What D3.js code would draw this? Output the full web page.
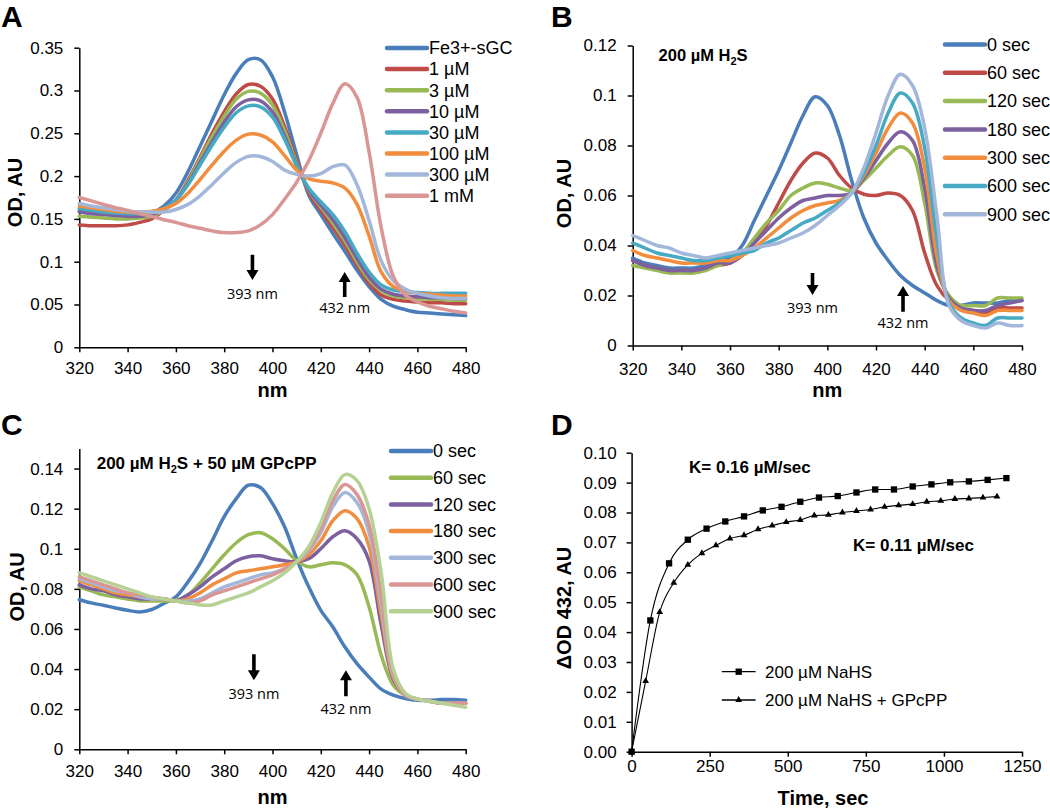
<!DOCTYPE html>
<html><head><meta charset="utf-8">
<script src="https://cdn.jsdelivr.net/npm/d3@7"></script>
<style>body{margin:0;background:#fff}svg{display:block}</style>
</head><body><svg id="c" width="1050" height="810"></svg>
<script>
// ---------------- DATA ----------------
const wavelengths = [320,325,330,335,340,345,350,355,360,365,370,375,380,385,390,395,400,405,410,415,420,425,430,435,440,445,450,455,460,465,470,475,480];
const nmTicks = [320,340,360,380,400,420,440,460,480];

// Panel A: H2S concentration series
const aNames = ["Fe3+-sGC","1 µM","3 µM","10 µM","30 µM","100 µM","300 µM","1 mM"];
const aFe   = [0.160,0.158,0.157,0.156,0.155,0.155,0.157,0.165,0.180,0.205,0.235,0.265,0.295,0.320,0.336,0.336,0.316,0.275,0.225,0.178,0.155,0.133,0.112,0.090,0.071,0.056,0.048,0.044,0.041,0.040,0.039,0.038,0.037];
const a1uM  = [0.143,0.142,0.142,0.142,0.143,0.146,0.150,0.160,0.172,0.195,0.222,0.250,0.275,0.296,0.307,0.305,0.290,0.258,0.218,0.181,0.160,0.140,0.119,0.096,0.075,0.061,0.056,0.054,0.053,0.052,0.052,0.051,0.051];
const a3uM  = [0.153,0.152,0.151,0.150,0.150,0.151,0.153,0.160,0.172,0.193,0.220,0.246,0.270,0.290,0.299,0.297,0.283,0.253,0.215,0.183,0.164,0.145,0.124,0.100,0.079,0.066,0.060,0.058,0.057,0.056,0.056,0.055,0.055];
const a10uM = [0.158,0.156,0.155,0.154,0.153,0.153,0.155,0.161,0.172,0.191,0.216,0.240,0.263,0.281,0.289,0.288,0.275,0.247,0.213,0.184,0.166,0.149,0.128,0.104,0.082,0.068,0.062,0.060,0.059,0.058,0.058,0.057,0.057];
const a30uM = [0.162,0.160,0.158,0.157,0.156,0.156,0.157,0.162,0.172,0.190,0.213,0.236,0.257,0.274,0.282,0.281,0.269,0.243,0.212,0.186,0.170,0.155,0.135,0.110,0.088,0.073,0.067,0.065,0.064,0.063,0.063,0.063,0.063];
const a100uM= [0.165,0.163,0.161,0.159,0.158,0.158,0.159,0.162,0.168,0.180,0.196,0.213,0.229,0.242,0.249,0.248,0.240,0.224,0.207,0.197,0.194,0.192,0.186,0.167,0.130,0.088,0.071,0.066,0.063,0.062,0.061,0.060,0.060];
const a300uM= [0.168,0.165,0.163,0.161,0.159,0.158,0.158,0.158,0.161,0.167,0.177,0.190,0.204,0.216,0.223,0.223,0.217,0.207,0.202,0.200,0.203,0.211,0.213,0.190,0.148,0.101,0.078,0.068,0.063,0.060,0.058,0.057,0.057];
const a1mM  = [0.175,0.171,0.167,0.163,0.160,0.156,0.153,0.149,0.146,0.142,0.139,0.136,0.134,0.134,0.136,0.143,0.155,0.173,0.193,0.218,0.250,0.285,0.308,0.292,0.228,0.140,0.083,0.061,0.053,0.048,0.045,0.042,0.040];
const aYTicks = [0,0.05,0.1,0.15,0.2,0.25,0.3,0.35];

// Panel B: 200 µM H2S time course
const bNames = ["0 sec","60 sec","120 sec","180 sec","300 sec","600 sec","900 sec"];
const b0   = [0.035,0.033,0.032,0.031,0.031,0.031,0.032,0.034,0.035,0.040,0.050,0.060,0.070,0.081,0.092,0.0995,0.096,0.084,0.066,0.051,0.041,0.034,0.028,0.024,0.021,0.018,0.016,0.016,0.017,0.017,0.017,0.018,0.018];
const b60  = [0.034,0.032,0.031,0.030,0.030,0.030,0.031,0.032,0.033,0.036,0.041,0.048,0.057,0.066,0.073,0.077,0.075,0.068,0.063,0.0605,0.060,0.061,0.060,0.054,0.037,0.024,0.018,0.015,0.014,0.013,0.015,0.015,0.015];
const b120 = [0.032,0.031,0.030,0.029,0.029,0.029,0.030,0.032,0.034,0.037,0.043,0.049,0.054,0.060,0.063,0.065,0.0645,0.063,0.062,0.066,0.071,0.076,0.0795,0.076,0.057,0.030,0.020,0.016,0.016,0.016,0.019,0.019,0.019];
const b180 = [0.034,0.032,0.031,0.030,0.030,0.030,0.031,0.033,0.033,0.036,0.041,0.046,0.051,0.055,0.058,0.059,0.060,0.060,0.061,0.067,0.074,0.081,0.0855,0.082,0.063,0.032,0.019,0.015,0.014,0.014,0.016,0.017,0.018];
const b300 = [0.038,0.036,0.035,0.034,0.033,0.033,0.033,0.034,0.034,0.036,0.039,0.043,0.047,0.051,0.054,0.056,0.057,0.058,0.061,0.068,0.077,0.087,0.093,0.089,0.071,0.036,0.018,0.014,0.013,0.012,0.014,0.014,0.014];
const b600 = [0.041,0.039,0.037,0.036,0.035,0.034,0.034,0.035,0.036,0.037,0.038,0.041,0.043,0.046,0.049,0.051,0.054,0.057,0.061,0.069,0.080,0.093,0.101,0.097,0.079,0.043,0.017,0.011,0.009,0.008,0.011,0.011,0.011];
const b900 = [0.044,0.042,0.040,0.039,0.037,0.036,0.035,0.036,0.037,0.038,0.039,0.040,0.041,0.043,0.045,0.048,0.052,0.056,0.061,0.071,0.085,0.100,0.1085,0.104,0.087,0.052,0.016,0.010,0.008,0.007,0.009,0.008,0.008];
const bYTicks = [0,0.02,0.04,0.06,0.08,0.1,0.12];

// Panel C: 200 µM H2S + 50 µM GPcPP time course
const cNames = ["0 sec","60 sec","120 sec","180 sec","300 sec","600 sec","900 sec"];
const c0   = [0.0746,0.073,0.0718,0.0705,0.0693,0.0685,0.0697,0.0727,0.076,0.0835,0.0926,0.104,0.116,0.125,0.1317,0.1305,0.1225,0.111,0.095,0.081,0.0693,0.061,0.051,0.0427,0.036,0.030,0.027,0.0253,0.0244,0.0245,0.0248,0.0248,0.0245];
const c60  = [0.081,0.079,0.077,0.076,0.075,0.074,0.074,0.074,0.0743,0.077,0.083,0.090,0.097,0.103,0.107,0.108,0.105,0.100,0.094,0.091,0.092,0.093,0.092,0.087,0.071,0.047,0.032,0.027,0.025,0.024,0.023,0.023,0.023];
const c120 = [0.082,0.080,0.079,0.077,0.076,0.075,0.075,0.075,0.074,0.077,0.081,0.086,0.090,0.094,0.096,0.0965,0.095,0.094,0.0935,0.095,0.100,0.106,0.109,0.105,0.094,0.062,0.035,0.027,0.025,0.024,0.023,0.023,0.023];
const c180 = [0.084,0.082,0.080,0.078,0.077,0.076,0.075,0.075,0.074,0.075,0.078,0.082,0.085,0.088,0.089,0.090,0.091,0.092,0.0935,0.097,0.104,0.114,0.119,0.115,0.101,0.067,0.036,0.027,0.025,0.024,0.023,0.023,0.023];
const c300 = [0.085,0.083,0.081,0.079,0.078,0.076,0.075,0.075,0.074,0.074,0.075,0.078,0.081,0.083,0.085,0.087,0.088,0.090,0.0935,0.099,0.108,0.121,0.128,0.123,0.108,0.072,0.037,0.027,0.025,0.024,0.023,0.023,0.023];
const c600 = [0.086,0.084,0.082,0.080,0.078,0.077,0.076,0.075,0.074,0.073,0.074,0.077,0.079,0.081,0.083,0.085,0.087,0.090,0.0935,0.100,0.110,0.124,0.132,0.127,0.112,0.077,0.038,0.027,0.025,0.024,0.023,0.023,0.023];
const c900 = [0.088,0.086,0.084,0.082,0.080,0.078,0.076,0.075,0.074,0.073,0.072,0.072,0.074,0.076,0.078,0.081,0.084,0.088,0.0935,0.101,0.113,0.128,0.137,0.134,0.120,0.088,0.040,0.028,0.025,0.024,0.023,0.022,0.021];
const cYTicks = [0,0.02,0.04,0.06,0.08,0.1,0.12,0.14];

// Panel D: ΔOD 432 kinetics
const dNames = ["200 µM NaHS","200 µM NaHS + GPcPP"];
const dTimeNaHS = [0,60,120,180,240,300,360,420,480,540,600,660,720,780,840,900,960,1020,1080,1140,1200];
const dOdNaHS   = [0,0.0439,0.063,0.0709,0.0746,0.077,0.0787,0.0807,0.0819,0.0836,0.085,0.0855,0.0867,0.0877,0.0877,0.0887,0.0894,0.0901,0.0904,0.0909,0.0915];
const dTimeGPc  = [0,45,90,135,180,225,270,315,360,405,450,495,540,585,630,675,720,765,810,855,900,945,990,1035,1080,1125,1170];
const dOdGPc    = [0,0.0236,0.0467,0.0565,0.0625,0.0664,0.069,0.0713,0.0724,0.0744,0.0756,0.0768,0.0775,0.079,0.0792,0.080,0.0805,0.081,0.0819,0.0824,0.0828,0.0836,0.0839,0.0845,0.0847,0.085,0.0853];
const dXTicks = [0,250,500,750,1000,1250];
const dYTicks = [0,0.01,0.02,0.03,0.04,0.05,0.06,0.07,0.08,0.09,0.10];

// ---------------- STYLE ----------------
const COL = {blue:"#4A7EBB", red:"#BE4B48", green:"#98B954", purple:"#7D60A0", aqua:"#46AAC5",
             orange:"#F38D3E", lblue:"#A3B7DB", pink:"#D99694", lgreen:"#B5D194"};
const FONT = '"Liberation Sans", Arial, Helvetica, sans-serif';
const AFONT = '"Open Sans", "DejaVu Sans", sans-serif';

const svg = d3.select("#c");
svg.append("rect").attr("width",1050).attr("height",810).attr("fill","#fff");

function styleAxis(a, fs){
  a.select(".domain").attr("stroke","#000").attr("stroke-width",1.5);
  a.selectAll(".tick line").attr("stroke","#000").attr("stroke-width",1.5);
  a.selectAll(".tick text").attr("font-size",fs).attr("font-family",FONT).attr("fill","#000");
}
const fmtGeneral = d => String(+d.toFixed(3));

function arrow(g, x, y0, y1, up){
  const dir = up ? -1 : 1;
  const hb = y1 - dir*10;
  g.append("path")
    .attr("d", `M${x-1.8},${y0} L${x+1.8},${y0} L${x+1.8},${hb} L${x+6},${hb} L${x},${y1} L${x-6},${hb} L${x-1.8},${hb} Z`)
    .attr("fill","#000");
}

function spectrumPanel(p){
  const g = svg.append("g");
  const x = d3.scaleLinear().domain([320,480]).range([p.left,p.right]);
  const y = d3.scaleLinear().domain([0,p.yMax]).range([p.bottom,p.top]);
  const gy = g.append("g").attr("transform",`translate(${p.left},0)`)
    .call(d3.axisLeft(y).tickValues(p.yTicks).tickFormat(fmtGeneral).tickSize(5).tickSizeOuter(0).tickPadding(11));
  styleAxis(gy,17);
  const gx = g.append("g").attr("transform",`translate(0,${p.bottom})`)
    .call(d3.axisBottom(x).tickValues(nmTicks).tickFormat(d=>d).tickSize(5).tickSizeOuter(0).tickPadding(p.xPad));
  styleAxis(gx,17);

  const line = d3.line().x((d,i)=>x(wavelengths[i])).y(d=>y(d)).curve(d3.curveCatmullRom.alpha(0.5));
  p.series.forEach(s=>{
    g.append("path").datum(s.values).attr("d",line).attr("fill","none")
      .attr("stroke",s.color).attr("stroke-width",3.5).attr("stroke-linejoin","round").attr("stroke-linecap","round");
  });
  p.series.forEach((s,i)=>{
    const ly = p.legY + i*p.legDy;
    g.append("line").attr("x1",p.legX).attr("x2",p.legX+40).attr("y1",ly).attr("y2",ly)
      .attr("stroke",s.color).attr("stroke-width",4.5).attr("stroke-linecap","round");
    g.append("text").attr("x",p.legX+42).attr("y",ly).attr("dy","0.35em")
      .attr("font-family",FONT).attr("font-size",p.legFs).attr("fill","#000").text(s.name);
  });
  p.arrows.forEach(a=>{
    const ax = x(a.nm);
    arrow(g, ax, y(a.tail), y(a.head), a.up);
    g.append("text").attr("x",ax).attr("y",y(a.ly)).attr("dy","0.35em").attr("text-anchor","middle")
      .attr("font-family",AFONT).attr("font-size",14.5).attr("fill","#000").text(a.label);
  });
  g.append("text").attr("transform",`translate(${p.yTitleX},${(p.top+p.bottom)/2 + p.yTitleDy}) rotate(-90)`)
    .attr("text-anchor","middle").attr("dy","0.35em").attr("font-family",FONT).attr("font-weight","bold")
    .attr("font-size",20).text("OD, AU");
  g.append("text").attr("x",(p.left+p.right)/2).attr("y",p.xTitleY).attr("dy","0.35em").attr("text-anchor","middle")
    .attr("font-family",FONT).attr("font-weight","bold").attr("font-size",20).text("nm");
  g.append("text").attr("x",p.letterX).attr("y",p.letterY).attr("font-family",FONT).attr("font-weight","bold")
    .attr("font-size",30).text(p.letter);
  return {g,x,y};
}

// Panel A
spectrumPanel({
  left:79.3, right:465.7, top:47.7, bottom:347.3, yMax:0.35, yTicks:aYTicks, xPad:10,
  series:[
    {name:aNames[0],values:aFe,color:COL.blue},{name:aNames[1],values:a1uM,color:COL.red},
    {name:aNames[2],values:a3uM,color:COL.green},{name:aNames[3],values:a10uM,color:COL.purple},
    {name:aNames[4],values:a30uM,color:COL.aqua},{name:aNames[5],values:a100uM,color:COL.orange},
    {name:aNames[6],values:a300uM,color:COL.lblue},{name:aNames[7],values:a1mM,color:COL.pink}],
  legX:387, legY:48, legDy:21.1, legFs:18,
  arrows:[{nm:391.7,tail:0.108,head:0.0786,up:false,label:"393 nm",ly:0.0623},
          {nm:429.9,tail:0.0588,head:0.088,up:true,label:"432 nm",ly:0.0456}],
  yTitleX:15, yTitleDy:-5, xTitleY:390, letter:"A", letterX:1, letterY:27
});

// Panel B
const pB = spectrumPanel({
  left:632.7, right:1022, top:45.5, bottom:345.5, yMax:0.12, yTicks:bYTicks, xPad:12,
  series:[
    {name:bNames[0],values:b0,color:COL.blue},{name:bNames[1],values:b60,color:COL.red},
    {name:bNames[2],values:b120,color:COL.green},{name:bNames[3],values:b180,color:COL.purple},
    {name:bNames[4],values:b300,color:COL.orange},{name:bNames[5],values:b600,color:COL.aqua},
    {name:bNames[6],values:b900,color:COL.lblue}],
  legX:945, legY:44.5, legDy:28.3, legFs:18,
  arrows:[{nm:393.9,tail:0.029,head:0.0202,up:false,label:"393 nm",ly:0.0149},
          {nm:431.1,tail:0.0135,head:0.0238,up:true,label:"432 nm",ly:0.0091}],
  yTitleX:564, yTitleDy:-2, xTitleY:390, letter:"B", letterX:551, letterY:27
});
{
  const t = pB.g.append("text").attr("x",658.6).attr("y",61).attr("font-family",FONT).attr("font-weight","bold").attr("font-size",16.5);
  t.append("tspan").text("200 µM H");
  t.append("tspan").attr("font-size",11).attr("dy",4).text("2");
  t.append("tspan").attr("dy",-4).text("S");
}

// Panel C
const pC = spectrumPanel({
  left:79.3, right:465.7, top:448.5, bottom:749.3, yMax:0.15, yTicks:cYTicks, xPad:10.5,
  series:[
    {name:cNames[0],values:c0,color:COL.blue},{name:cNames[1],values:c60,color:COL.green},
    {name:cNames[2],values:c120,color:COL.purple},{name:cNames[3],values:c180,color:COL.orange},
    {name:cNames[4],values:c300,color:COL.lblue},{name:cNames[5],values:c600,color:COL.pink},
    {name:cNames[6],values:c900,color:COL.lgreen}],
  legX:391, legY:451, legDy:26.7, legFs:18,
  arrows:[{nm:392.3,tail:0.0474,head:0.0344,up:false,label:"393 nm",ly:0.0278},
          {nm:430.4,tail:0.0264,head:0.0394,up:true,label:"432 nm",ly:0.0203}],
  yTitleX:16.7, yTitleDy:-12, xTitleY:797, letter:"C", letterX:1, letterY:435
});
{
  const t = pC.g.append("text").attr("x",96.7).attr("y",469).attr("font-family",FONT).attr("font-weight","bold").attr("font-size",17);
  t.append("tspan").text("200 µM H");
  t.append("tspan").attr("font-size",11).attr("dy",4).text("2");
  t.append("tspan").attr("dy",-4).text("S + 50 µM GPcPP");
}

// Panel D
{
  const g = svg.append("g");
  const L=631.6, R=1022, T=452.7, B=751.7;
  const x = d3.scaleLinear().domain([0,1250]).range([L,R]);
  const y = d3.scaleLinear().domain([0,0.10]).range([B,T]);
  const gy = g.append("g").attr("transform",`translate(${L},0)`)
    .call(d3.axisLeft(y).tickValues(dYTicks).tickFormat(d3.format(".2f")).tickSize(5).tickSizeOuter(0).tickPadding(10));
  styleAxis(gy,17);
  const gx = g.append("g").attr("transform",`translate(0,${B})`)
    .call(d3.axisBottom(x).tickValues(dXTicks).tickFormat(d=>d).tickSize(5).tickSizeOuter(0).tickPadding(3));
  styleAxis(gx,17);

  const line = d3.line().x(d=>x(d[0])).y(d=>y(d[1])).curve(d3.curveMonotoneX);
  const sq = dTimeNaHS.map((t,i)=>[t,dOdNaHS[i]]);
  const tr = dTimeGPc.map((t,i)=>[t,dOdGPc[i]]);
  g.append("path").datum(sq).attr("d",line).attr("fill","none").attr("stroke","#000").attr("stroke-width",1.1);
  g.append("path").datum(tr).attr("d",line).attr("fill","none").attr("stroke","#000").attr("stroke-width",1.1);
  const sqSym = d3.symbol().type(d3.symbolSquare).size(40);
  const trSym = d3.symbol().type(d3.symbolTriangle).size(20);
  g.selectAll(".sq").data(sq).enter().append("path").attr("d",sqSym)
    .attr("transform",d=>`translate(${x(d[0])},${y(d[1])})`).attr("fill","#000");
  g.selectAll(".tr").data(tr).enter().append("path").attr("d",trSym)
    .attr("transform",d=>`translate(${x(d[0])},${y(d[1])})`).attr("fill","#000");

  const legRows = [{y:671.7, sym:sqSym},{y:700, sym:trSym}];
  legRows.forEach((r,i)=>{
    g.append("line").attr("x1",721.8).attr("x2",755.6).attr("y1",r.y).attr("y2",r.y).attr("stroke","#000").attr("stroke-width",1.3);
    g.append("path").attr("d",r.sym).attr("transform",`translate(738.7,${r.y})`).attr("fill","#000");
    g.append("text").attr("x",765).attr("y",r.y).attr("dy","0.35em").attr("font-family",FONT).attr("font-size",17).text(dNames[i]);
  });
  g.append("text").attr("x",689).attr("y",466.7).attr("dy","0.35em").attr("font-family",FONT).attr("font-weight","bold").attr("font-size",17).text("K= 0.16 µM/sec");
  g.append("text").attr("x",853).attr("y",545).attr("dy","0.35em").attr("font-family",FONT).attr("font-weight","bold").attr("font-size",17).text("K= 0.11 µM/sec");

  g.append("text").attr("transform",`translate(564,608) rotate(-90)`).attr("text-anchor","middle").attr("dy","0.35em")
    .attr("font-family",FONT).attr("font-weight","bold").attr("font-size",20).text("ΔOD 432, AU");
  g.append("text").attr("x",823).attr("y",798).attr("dy","0.35em").attr("text-anchor","middle")
    .attr("font-family",FONT).attr("font-weight","bold").attr("font-size",20).text("Time, sec");
  g.append("text").attr("x",551).attr("y",435).attr("font-family",FONT).attr("font-weight","bold").attr("font-size",30).text("D");
}
</script></body></html>
